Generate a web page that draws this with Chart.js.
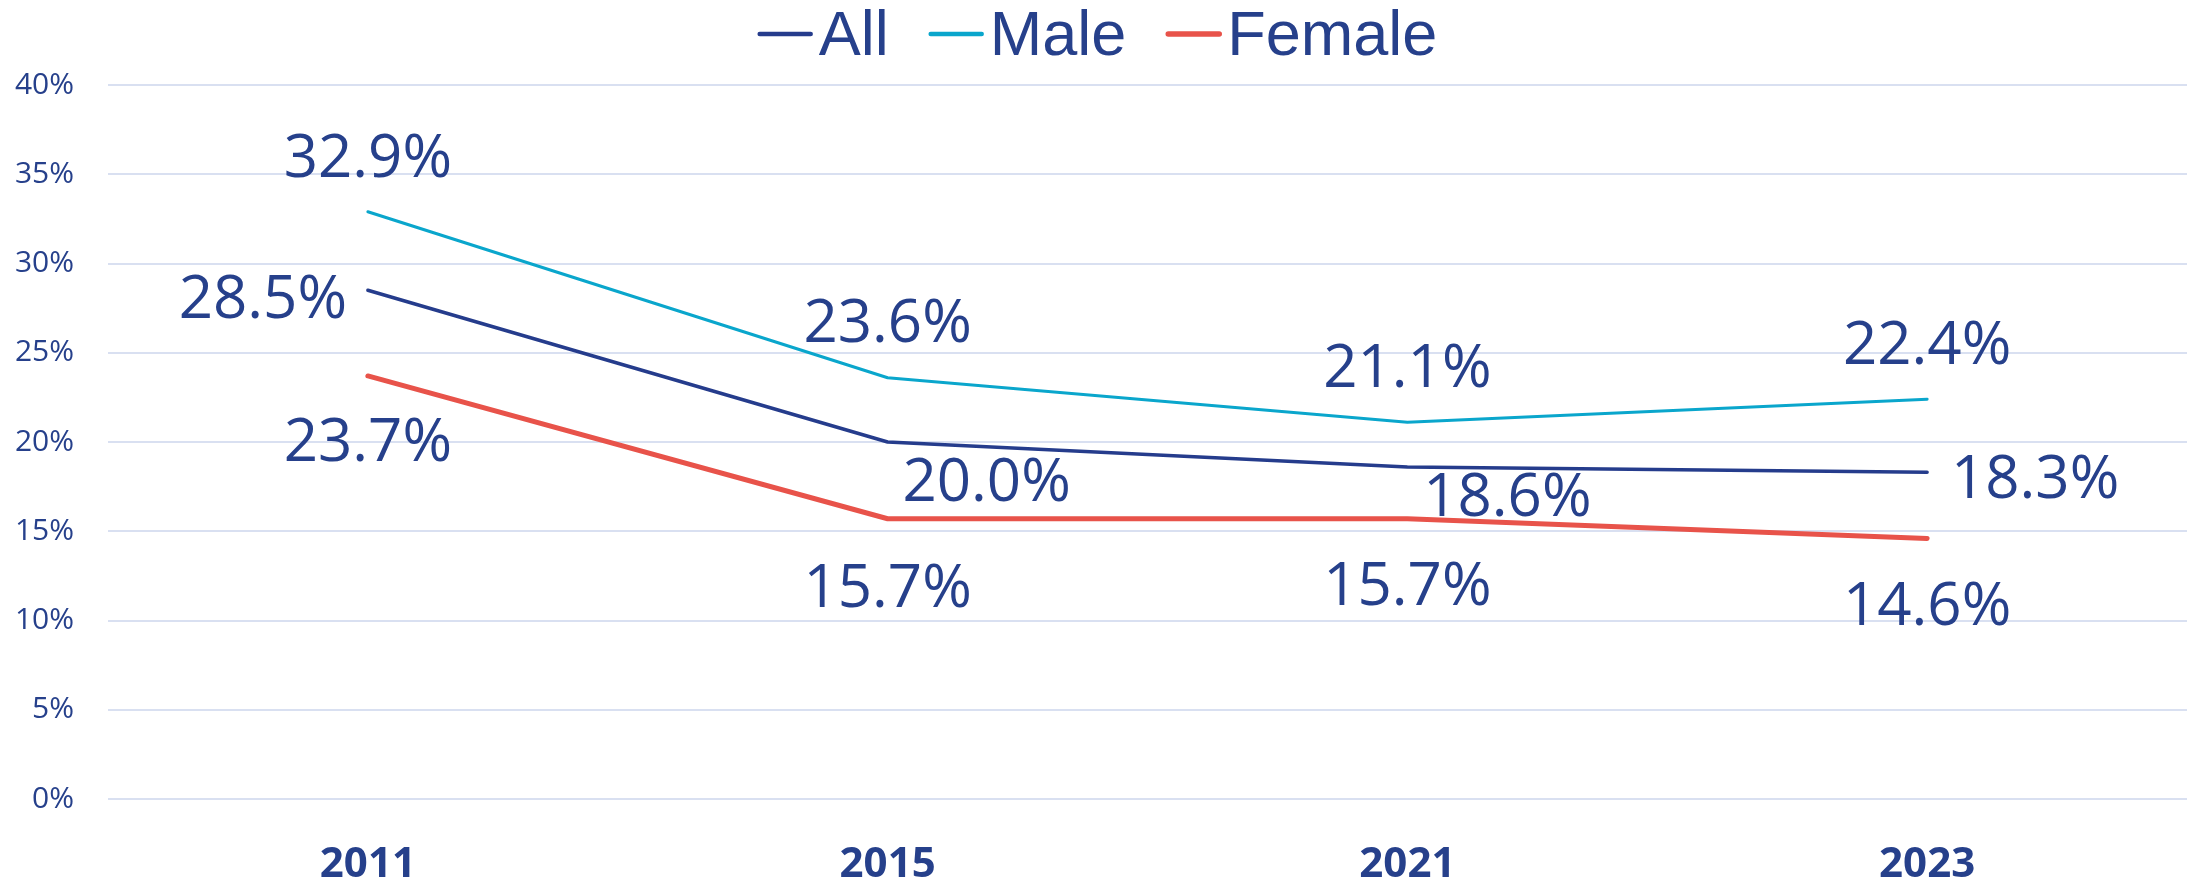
<!DOCTYPE html>
<html><head><meta charset="utf-8">
<script src="https://cdn.jsdelivr.net/npm/chart.js@4.4.1/dist/chart.umd.min.js"></script>
<style>html,body{margin:0;padding:0;background:#fff;overflow:hidden}#wrap{width:2187px;height:882px;position:relative}</style>
</head><body><div id="wrap"><canvas id="c" width="2187" height="882"></canvas></div>
<script>
// ---- data ----
const categories = ['2011', '2015', '2021', '2023'];
const seriesNames = ['All', 'Male', 'Female'];
const allValues = [28.5, 20.0, 18.6, 18.3];
const maleValues = [32.9, 23.6, 21.1, 22.4];
const femaleValues = [23.7, 15.7, 15.7, 14.6];
const yTickValues = [0, 5, 10, 15, 20, 25, 30, 35, 40];

// ---- styles ----
const TEXT = '#26408B';
const COLORS = ['#253C8C', '#0AA6CC', '#E8534A'];
const WIDTHS = [3.5, 3, 5];
const LEGEND_WIDTHS = [4.5, 4.5, 5.5];
// label offsets (dx, dy of glyph centre relative to the point)
const labelOffsets = [
  [[-105, 6], [99, 38], [100, 28], [108, 4]],
  [[0, -56], [0, -57], [0, -57], [0, -57]],
  [[0, 64], [0, 67], [0, 65], [0, 65]]
];

const seriesValues = [allValues, maleValues, femaleValues];

const labelPlugin = {
  id: 'pointLabels',
  afterDatasetsDraw(chart) {
    const ctx = chart.ctx;
    const fs = 60;
    ctx.save();
    ctx.font = fs + 'px "Open Sans"';
    ctx.fillStyle = TEXT;
    ctx.textAlign = 'center';
    ctx.textBaseline = 'alphabetic';
    chart.data.datasets.forEach((ds, di) => {
      const meta = chart.getDatasetMeta(di);
      meta.data.forEach((pt, i) => {
        const off = labelOffsets[di][i];
        const txt = ds.data[i].toFixed(1) + '%';
        ctx.fillText(txt, pt.x + off[0], pt.y + off[1] + fs * 0.357);
      });
    });
    ctx.restore();
  }
};

const legendPlugin = {
  id: 'topLegend',
  afterDraw(chart) {
    const ctx = chart.ctx;
    ctx.save();
    ctx.font = '63px "Liberation Sans", Arial, sans-serif';
    const lineLen = 55, gapText = 6, gapItem = 40;
    const items = chart.data.datasets.map((ds, i) => ({
      label: ds.label, color: ds.borderColor, lw: LEGEND_WIDTHS[i],
      tw: ctx.measureText(ds.label).width
    }));
    let total = 0;
    items.forEach((it, i) => { total += lineLen + gapText + it.tw + (i < items.length - 1 ? gapItem : 0); });
    let x = chart.width / 2 + 4 - total / 2;
    const lineY = 34, baseY = 55;
    items.forEach((it) => {
      ctx.beginPath();
      ctx.strokeStyle = it.color;
      ctx.lineWidth = it.lw;
      ctx.lineCap = 'round';
      ctx.moveTo(x + 2, lineY);
      ctx.lineTo(x + lineLen - 2, lineY);
      ctx.stroke();
      x += lineLen + gapText;
      ctx.fillStyle = TEXT;
      ctx.textBaseline = 'alphabetic';
      ctx.textAlign = 'left';
      ctx.fillText(it.label, x, baseY);
      x += it.tw + gapItem;
    });
    ctx.restore();
  }
};

new Chart(document.getElementById('c'), {
  type: 'line',
  data: {
    labels: categories,
    datasets: seriesNames.map((name, i) => ({
      label: name,
      data: seriesValues[i],
      borderColor: COLORS[i],
      backgroundColor: COLORS[i],
      borderWidth: WIDTHS[i],
      borderCapStyle: 'round',
      borderJoinStyle: 'round',
      pointRadius: 0,
      pointHoverRadius: 0,
      tension: 0,
      fill: false
    }))
  },
  options: {
    responsive: false,
    devicePixelRatio: 1,
    animation: false,
    events: [],
    layout: { padding: { top: 85, left: 0, right: 0, bottom: 0 } },
    plugins: { legend: { display: false }, tooltip: { enabled: false } },
    scales: {
      x: {
        offset: true,
        grid: { display: false, drawTicks: false },
        border: { display: false },
        ticks: { color: TEXT, padding: 41, font: { family: '"Open Sans"', size: 42, weight: 'bold' } },
        afterFit(s) { s.height = 83; }
      },
      y: {
        min: 0, max: 40,
        afterBuildTicks(s) { s.ticks = yTickValues.map(v => ({ value: v })); },
        grid: { color: '#D9E0F1', lineWidth: 2, drawTicks: false },
        border: { display: false },
        ticks: { color: TEXT, padding: 34, font: { family: '"Open Sans"', size: 30 }, callback: v => v + '%' },
        afterFit(s) { s.width = 108; }
      }
    }
  },
  plugins: [labelPlugin, legendPlugin]
});
</script>
</body></html>
